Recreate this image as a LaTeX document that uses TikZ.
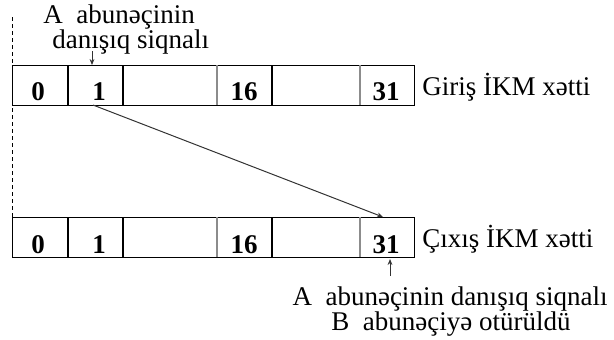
\documentclass[tikz,border=0pt]{standalone}
\usepackage{fontspec}
\setmainfont{Liberation Serif}
\usetikzlibrary{arrows.meta}
\begin{document}
\begin{tikzpicture}[x=0.5pt,y=-0.5pt,
  txt/.style={font=\fontsize{13.5}{16}\selectfont, inner sep=0pt},
  num/.style={font=\fontsize{13.5}{16}\selectfont\bfseries, inner sep=0pt, anchor=base},
  frame/.style={draw=black, line width=0.6pt},
  div/.style={draw=black, line width=0.6pt},
  gdiv/.style={draw=black!45, line width=0.6pt},
  conn/.style={draw=black!80, line width=0.5pt, -{Stealth[length=3pt,width=2.4pt]}},
  dashline/.style={draw=black, line width=0.5pt, dash pattern=on 2pt off 1.5pt}]
\useasboundingbox (0,0) rectangle (614,339);
% input row
\node[frame, minimum width=201pt, minimum height=20pt, anchor=north west, inner sep=0pt] (inrow) at (12,65) {};
\draw[div] (68,65) -- (68,105) (123,65) -- (123,105) (272,65) -- (272,105);
\draw[gdiv] (217,65) -- (217,105) (360,65) -- (360,105);
\node[num] (i0) at (38,100) {0};
\node[num] (i1) at (99,100) {1};
\node[num] (i16) at (244,100) {16};
\node[num] (i31) at (386,100) {31};
% output row
\node[frame, minimum width=201pt, minimum height=20pt, anchor=north west, inner sep=0pt] (outrow) at (12,217) {};
\draw[div] (68,217) -- (68,257) (123,217) -- (123,257) (272,217) -- (272,257);
\draw[gdiv] (217,217) -- (217,257) (360,217) -- (360,257);
\node[num] (o0) at (38,253) {0};
\node[num] (o1) at (99,253) {1};
\node[num] (o16) at (244,253) {16};
\node[num] (o31) at (386,253) {31};
% labels
\node[txt, anchor=base west] (inlbl) at (422,95) {Giriş İKM xətti};
\node[txt, anchor=base west] (outlbl) at (422,247) {Çıxış İKM xətti};
\node[txt, anchor=base west] (top1) at (43,23) {A\ \ abunəçinin};
\node[txt, anchor=base west] (top2) at (52,48) {danışıq siqnalı};
\node[txt, anchor=base] (bot1) at (450,305) {A\ \ abunəçinin danışıq siqnalı};
\node[txt, anchor=base] (bot2) at (451,330) {B\ \ abunəçiyə otürüldü};
% connectors
\coordinate (ta) at (92,51);
\coordinate (tb) at (92,65);
\coordinate (da) at (93,105);
\coordinate (db) at (383,217);
\coordinate (ba) at (390,276);
\coordinate (bb) at (390,259);
\coordinate (la) at (12,17);
\coordinate (lb) at (12,217);
\draw[conn] (ta) -- (tb);
\draw[conn] (da) -- (db);
\draw[conn] (ba) -- (bb);
\draw[dashline] (la) -- (lb);
\end{tikzpicture}
\end{document}
